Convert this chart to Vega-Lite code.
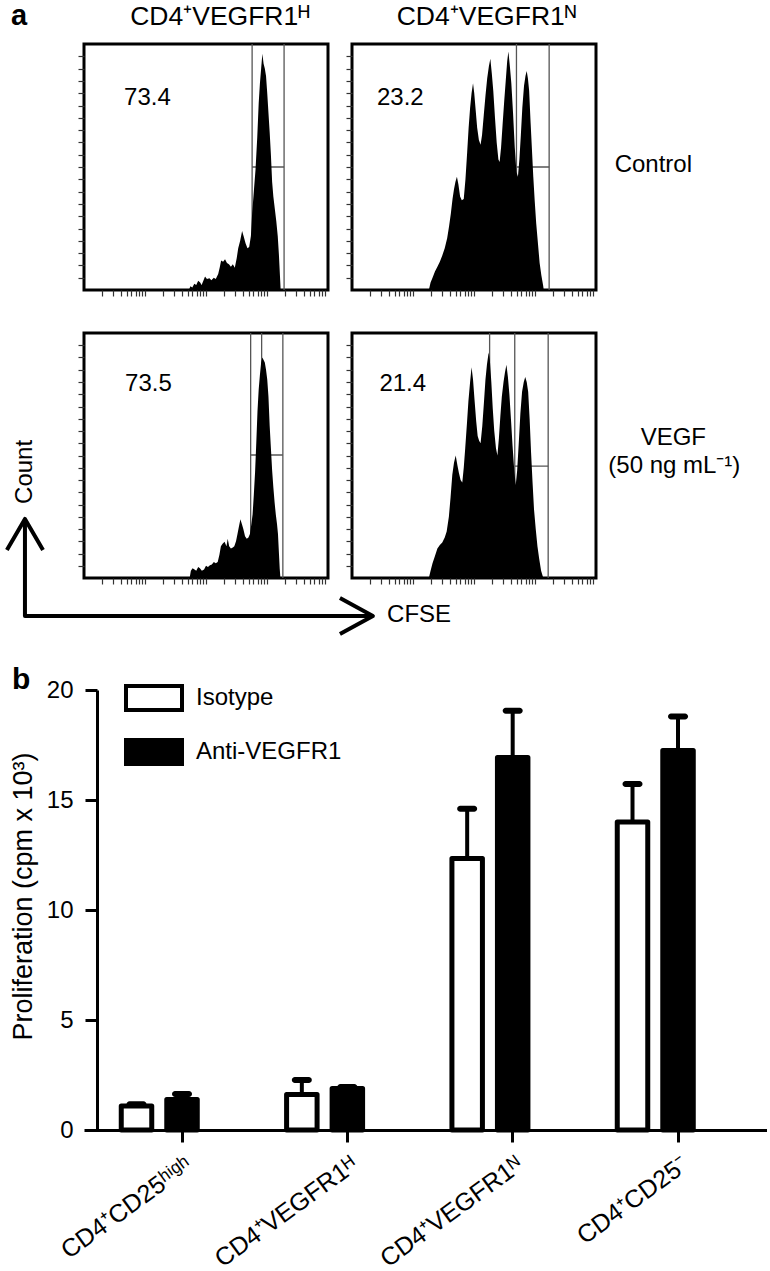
{
"$schema": "https://vega.github.io/schema/vega-lite/v6.json",
"padding": {"left": 3, "top": 0, "right": 0, "bottom": 1},
"background": "white",
"config": {"font": "Liberation Sans", "view": {"stroke": "black", "strokeWidth": 3}, "axis": {"grid": false}, "text": {"color": "black", "font": "Liberation Sans"}},
"datasets": {
"hist": [
{"p":"h1","x":43.0,"y":0},{"p":"h1","x":43.6,"y":1.5},{"p":"h1","x":44.4,"y":1},{"p":"h1","x":45.2,"y":2.5},{"p":"h1","x":46.0,"y":2},{"p":"h1","x":46.8,"y":3.8},{"p":"h1","x":47.6,"y":3},{"p":"h1","x":48.2,"y":2},{"p":"h1","x":49.0,"y":4},{"p":"h1","x":49.6,"y":5.5},{"p":"h1","x":50.4,"y":4.5},{"p":"h1","x":51.4,"y":4.8},{"p":"h1","x":52.2,"y":4},{"p":"h1","x":53.2,"y":5},{"p":"h1","x":54.0,"y":4.5},{"p":"h1","x":55.0,"y":6.5},{"p":"h1","x":55.6,"y":9},{"p":"h1","x":56.2,"y":12},{"p":"h1","x":57.0,"y":11.5},{"p":"h1","x":57.8,"y":12.5},{"p":"h1","x":58.6,"y":11},{"p":"h1","x":59.4,"y":10.5},{"p":"h1","x":60.2,"y":9.5},{"p":"h1","x":61.0,"y":10.5},{"p":"h1","x":61.8,"y":9},{"p":"h1","x":62.6,"y":13},{"p":"h1","x":63.2,"y":17},{"p":"h1","x":64.0,"y":20},{"p":"h1","x":64.8,"y":24},{"p":"h1","x":65.4,"y":22},{"p":"h1","x":66.2,"y":19},{"p":"h1","x":67.0,"y":17},{"p":"h1","x":67.7,"y":17.5},{"p":"h1","x":68.4,"y":22},{"p":"h1","x":68.9,"y":31},{"p":"h1","x":69.6,"y":40},{"p":"h1","x":70.3,"y":49},{"p":"h1","x":71.0,"y":62},{"p":"h1","x":71.6,"y":76},{"p":"h1","x":72.1,"y":84},{"p":"h1","x":72.6,"y":90},{"p":"h1","x":73.1,"y":96},{"p":"h1","x":73.6,"y":92},{"p":"h1","x":74.1,"y":90},{"p":"h1","x":74.6,"y":87},{"p":"h1","x":75.1,"y":80},{"p":"h1","x":75.6,"y":72},{"p":"h1","x":76.1,"y":64},{"p":"h1","x":76.6,"y":55},{"p":"h1","x":77.1,"y":44},{"p":"h1","x":77.6,"y":38},{"p":"h1","x":78.2,"y":33},{"p":"h1","x":78.8,"y":28},{"p":"h1","x":79.4,"y":22},{"p":"h1","x":79.9,"y":14},{"p":"h1","x":80.3,"y":6},{"p":"h1","x":80.6,"y":0},
{"p":"h2","x":31.5,"y":0},{"p":"h2","x":32.2,"y":3},{"p":"h2","x":33.0,"y":5},{"p":"h2","x":34.0,"y":7.5},{"p":"h2","x":35.0,"y":9.5},{"p":"h2","x":36.0,"y":11.5},{"p":"h2","x":37.0,"y":14},{"p":"h2","x":38.0,"y":17},{"p":"h2","x":39.0,"y":21},{"p":"h2","x":39.8,"y":26},{"p":"h2","x":40.5,"y":31},{"p":"h2","x":41.2,"y":37},{"p":"h2","x":41.8,"y":41},{"p":"h2","x":42.4,"y":44},{"p":"h2","x":43.0,"y":46},{"p":"h2","x":43.6,"y":43},{"p":"h2","x":44.3,"y":38},{"p":"h2","x":45.0,"y":36.5},{"p":"h2","x":45.8,"y":37},{"p":"h2","x":46.5,"y":45},{"p":"h2","x":47.2,"y":56},{"p":"h2","x":47.8,"y":66},{"p":"h2","x":48.4,"y":74},{"p":"h2","x":49.0,"y":80},{"p":"h2","x":49.6,"y":84},{"p":"h2","x":50.1,"y":80},{"p":"h2","x":50.7,"y":73},{"p":"h2","x":51.3,"y":66},{"p":"h2","x":52.0,"y":61},{"p":"h2","x":52.7,"y":59},{"p":"h2","x":53.3,"y":63},{"p":"h2","x":54.0,"y":71},{"p":"h2","x":54.7,"y":79},{"p":"h2","x":55.4,"y":86},{"p":"h2","x":56.1,"y":91},{"p":"h2","x":56.7,"y":94},{"p":"h2","x":57.3,"y":88},{"p":"h2","x":57.9,"y":81},{"p":"h2","x":58.6,"y":70},{"p":"h2","x":59.3,"y":60},{"p":"h2","x":60.0,"y":53},{"p":"h2","x":60.5,"y":52},{"p":"h2","x":61.1,"y":58},{"p":"h2","x":61.7,"y":67},{"p":"h2","x":62.4,"y":77},{"p":"h2","x":63.0,"y":85},{"p":"h2","x":63.6,"y":93},{"p":"h2","x":64.1,"y":97},{"p":"h2","x":64.7,"y":91},{"p":"h2","x":65.3,"y":84},{"p":"h2","x":66.0,"y":72},{"p":"h2","x":66.7,"y":58},{"p":"h2","x":67.4,"y":48},{"p":"h2","x":68.0,"y":46},{"p":"h2","x":68.6,"y":53},{"p":"h2","x":69.2,"y":63},{"p":"h2","x":69.8,"y":74},{"p":"h2","x":70.5,"y":83},{"p":"h2","x":71.1,"y":87},{"p":"h2","x":71.6,"y":89},{"p":"h2","x":72.1,"y":86},{"p":"h2","x":72.6,"y":81},{"p":"h2","x":73.2,"y":68},{"p":"h2","x":73.7,"y":58},{"p":"h2","x":74.3,"y":46},{"p":"h2","x":74.9,"y":36},{"p":"h2","x":75.5,"y":27},{"p":"h2","x":76.2,"y":19},{"p":"h2","x":76.9,"y":11},{"p":"h2","x":77.6,"y":6},{"p":"h2","x":78.3,"y":2},{"p":"h2","x":78.6,"y":0},
{"p":"h3","x":43.3,"y":0},{"p":"h3","x":43.8,"y":3},{"p":"h3","x":44.5,"y":4},{"p":"h3","x":45.3,"y":3.5},{"p":"h3","x":46.0,"y":3},{"p":"h3","x":46.8,"y":4.5},{"p":"h3","x":47.5,"y":4},{"p":"h3","x":48.3,"y":3},{"p":"h3","x":49.2,"y":3.5},{"p":"h3","x":50.0,"y":5},{"p":"h3","x":50.8,"y":4.5},{"p":"h3","x":51.6,"y":5.2},{"p":"h3","x":52.4,"y":5.5},{"p":"h3","x":53.2,"y":6.5},{"p":"h3","x":54.0,"y":6},{"p":"h3","x":54.8,"y":6.5},{"p":"h3","x":55.5,"y":9.5},{"p":"h3","x":56.1,"y":13},{"p":"h3","x":56.8,"y":14},{"p":"h3","x":57.6,"y":14.8},{"p":"h3","x":58.4,"y":13},{"p":"h3","x":58.9,"y":16},{"p":"h3","x":59.5,"y":13},{"p":"h3","x":60.2,"y":12},{"p":"h3","x":61.0,"y":12.5},{"p":"h3","x":61.6,"y":13},{"p":"h3","x":62.3,"y":15},{"p":"h3","x":62.9,"y":18},{"p":"h3","x":63.5,"y":21},{"p":"h3","x":64.1,"y":24},{"p":"h3","x":64.7,"y":22},{"p":"h3","x":65.3,"y":20},{"p":"h3","x":66.0,"y":17},{"p":"h3","x":66.7,"y":16},{"p":"h3","x":67.4,"y":16.5},{"p":"h3","x":68.0,"y":18},{"p":"h3","x":68.6,"y":22},{"p":"h3","x":69.1,"y":26},{"p":"h3","x":69.6,"y":34},{"p":"h3","x":70.1,"y":43},{"p":"h3","x":70.6,"y":55},{"p":"h3","x":71.1,"y":68},{"p":"h3","x":71.6,"y":77},{"p":"h3","x":72.1,"y":83},{"p":"h3","x":72.6,"y":88},{"p":"h3","x":73.1,"y":90},{"p":"h3","x":73.6,"y":89},{"p":"h3","x":74.1,"y":88},{"p":"h3","x":74.6,"y":85},{"p":"h3","x":75.1,"y":81},{"p":"h3","x":75.6,"y":74},{"p":"h3","x":76.1,"y":62},{"p":"h3","x":76.6,"y":53},{"p":"h3","x":77.1,"y":44},{"p":"h3","x":77.6,"y":37},{"p":"h3","x":78.1,"y":31},{"p":"h3","x":78.6,"y":26},{"p":"h3","x":79.1,"y":22},{"p":"h3","x":79.5,"y":18},{"p":"h3","x":79.9,"y":10},{"p":"h3","x":80.2,"y":4},{"p":"h3","x":80.5,"y":0},
{"p":"h4","x":31.5,"y":0},{"p":"h4","x":32.2,"y":3},{"p":"h4","x":33.0,"y":6},{"p":"h4","x":34.0,"y":9},{"p":"h4","x":35.0,"y":12},{"p":"h4","x":36.0,"y":13.5},{"p":"h4","x":37.0,"y":14.5},{"p":"h4","x":38.0,"y":16.5},{"p":"h4","x":38.8,"y":19},{"p":"h4","x":39.7,"y":25},{"p":"h4","x":40.4,"y":33},{"p":"h4","x":41.1,"y":42},{"p":"h4","x":41.8,"y":47},{"p":"h4","x":42.5,"y":50},{"p":"h4","x":43.2,"y":46},{"p":"h4","x":43.8,"y":43},{"p":"h4","x":44.5,"y":40},{"p":"h4","x":45.2,"y":39},{"p":"h4","x":45.8,"y":45},{"p":"h4","x":46.4,"y":53},{"p":"h4","x":47.1,"y":63},{"p":"h4","x":47.7,"y":72},{"p":"h4","x":48.4,"y":80},{"p":"h4","x":49.0,"y":86},{"p":"h4","x":49.6,"y":81},{"p":"h4","x":50.2,"y":73},{"p":"h4","x":50.9,"y":64},{"p":"h4","x":51.5,"y":58},{"p":"h4","x":52.1,"y":56},{"p":"h4","x":52.7,"y":55},{"p":"h4","x":53.4,"y":62},{"p":"h4","x":54.1,"y":72},{"p":"h4","x":54.7,"y":81},{"p":"h4","x":55.3,"y":87},{"p":"h4","x":56.0,"y":92},{"p":"h4","x":56.5,"y":89},{"p":"h4","x":57.1,"y":80},{"p":"h4","x":57.7,"y":69},{"p":"h4","x":58.3,"y":60},{"p":"h4","x":59.0,"y":53},{"p":"h4","x":59.6,"y":50},{"p":"h4","x":60.2,"y":57},{"p":"h4","x":60.8,"y":66},{"p":"h4","x":61.4,"y":74},{"p":"h4","x":62.1,"y":80},{"p":"h4","x":62.7,"y":84},{"p":"h4","x":63.3,"y":87},{"p":"h4","x":63.9,"y":82},{"p":"h4","x":64.5,"y":75},{"p":"h4","x":65.2,"y":64},{"p":"h4","x":65.8,"y":54},{"p":"h4","x":66.5,"y":44},{"p":"h4","x":67.1,"y":38},{"p":"h4","x":67.7,"y":44},{"p":"h4","x":68.4,"y":56},{"p":"h4","x":69.0,"y":67},{"p":"h4","x":69.7,"y":76},{"p":"h4","x":70.4,"y":80},{"p":"h4","x":71.0,"y":82},{"p":"h4","x":71.6,"y":80},{"p":"h4","x":72.2,"y":76},{"p":"h4","x":72.8,"y":65},{"p":"h4","x":73.4,"y":51},{"p":"h4","x":74.0,"y":39},{"p":"h4","x":74.6,"y":28},{"p":"h4","x":75.3,"y":20},{"p":"h4","x":76.0,"y":13},{"p":"h4","x":76.7,"y":8},{"p":"h4","x":77.5,"y":3},{"p":"h4","x":78.4,"y":0}
],
"gates": [
{"p":"h1","k":"v","x":68.9,"y":0,"y2":100},{"p":"h1","k":"v","x":82.0,"y":0,"y2":100},{"p":"h1","k":"h","x":68.9,"x2":82.0,"y":50},
{"p":"h2","k":"v","x":67.4,"y":0,"y2":100},{"p":"h2","k":"v","x":80.8,"y":0,"y2":100},{"p":"h2","k":"h","x":67.4,"x2":80.8,"y":50},
{"p":"h3","k":"v","x":68.3,"y":0,"y2":100},{"p":"h3","k":"v","x":72.8,"y":0,"y2":100},{"p":"h3","k":"v","x":81.5,"y":0,"y2":100},{"p":"h3","k":"h","x":68.3,"x2":81.5,"y":50.2},
{"p":"h4","k":"v","x":56.4,"y":0,"y2":100},{"p":"h4","k":"v","x":66.7,"y":0,"y2":100},{"p":"h4","k":"v","x":80.4,"y":0,"y2":100},{"p":"h4","k":"h","x":66.7,"x2":80.4,"y":45.7}
],
"notes": [
{"p":"h1","k":"head","x":55.7,"y":107.7,"t":"CD4⁺VEGFR1ᴴ"},
{"p":"h1","k":"num","x":26.0,"y":75.2,"t":"73.4"},
{"p":"h1","k":"panel","x":-26.6,"y":107.7,"t":"a"},
{"p":"h2","k":"head","x":55.1,"y":107.7,"t":"CD4⁺VEGFR1ᴺ"},
{"p":"h2","k":"num","x":19.8,"y":75.2,"t":"23.2"},
{"p":"h2","k":"side","x":123.5,"y":48.0,"t":"Control"},
{"p":"h3","k":"num","x":26.4,"y":76.3,"t":"73.5"},
{"p":"h3","k":"count","x":-24.2,"y":43.3,"t":"Count"},
{"p":"h3","k":"cfse","x":124.2,"y":-15.3,"t":"CFSE"},
{"p":"h3","k":"panel","x":-25.8,"y":-45.3,"t":"b"},
{"p":"h4","k":"num","x":20.8,"y":76.3,"t":"21.4"},
{"p":"h4","k":"side","x":131.7,"y":54.4,"t":"VEGF"},
{"p":"h4","k":"side","x":132.1,"y":43.0,"t":"(50 ng mL⁻¹)"}
],
"arrows": [
{"p":"h3","s":"L","o":1,"x":-24.2,"y":24.1},{"p":"h3","s":"L","o":2,"x":-24.2,"y":-15.5},{"p":"h3","s":"L","o":3,"x":118.4,"y":-15.5},
{"p":"h3","s":"U","o":1,"x":-31.6,"y":11.4},{"p":"h3","s":"U","o":2,"x":-24.2,"y":24.1},{"p":"h3","s":"U","o":3,"x":-16.8,"y":11.4},
{"p":"h3","s":"R","o":1,"x":104.9,"y":-8.2},{"p":"h3","s":"R","o":2,"x":118.4,"y":-15.5},{"p":"h3","s":"R","o":3,"x":104.9,"y":-22.9}
],
"bars": [
{"g":"CD4⁺CD25ʰⁱᵍʰ","t":"Isotype","mean":1.09,"upper":1.17},
{"g":"CD4⁺CD25ʰⁱᵍʰ","t":"Anti-VEGFR1","mean":1.39,"upper":1.64},
{"g":"CD4⁺VEGFR1ᴴ","t":"Isotype","mean":1.61,"upper":2.27},
{"g":"CD4⁺VEGFR1ᴴ","t":"Anti-VEGFR1","mean":1.89,"upper":1.95},
{"g":"CD4⁺VEGFR1ᴺ","t":"Isotype","mean":12.34,"upper":14.6},
{"g":"CD4⁺VEGFR1ᴺ","t":"Anti-VEGFR1","mean":16.93,"upper":19.06},
{"g":"CD4⁺CD25⁻","t":"Isotype","mean":14.0,"upper":15.73},
{"g":"CD4⁺CD25⁻","t":"Anti-VEGFR1","mean":17.25,"upper":18.79}
]
},
"columns": 2,
"align": "each",
"bounds": "flush",
"spacing": {"row": 43, "column": 24},
"resolve": {"scale": {"fill": "independent"}, "legend": {"fill": "independent"}},
"concat": [
{
"width": 244, "height": 246,
"encoding": {
 "x": {"field": "x", "type": "quantitative", "title": null, "scale": {"domain": [0, 100], "nice": false, "zero": false}, "axis": {"values": [7.53,11.93,15.05,17.47,19.46,21.13,22.58,23.86,25,32.53,36.93,40.05,42.47,44.46,46.13,47.58,48.86,50,57.53,61.93,65.05,67.47,69.46,71.13,72.58,73.86,75,82.53,86.93,90.05,92.47,94.46,96.13,97.58,98.86], "labels": false, "domain": false, "tickSize": 6, "tickColor": "#333", "tickWidth": 1.2, "title": null}},
 "y": {"field": "y", "type": "quantitative", "title": null, "scale": {"domain": [0, 100], "nice": false, "zero": false}, "axis": {"values": [5,10,15,20,25,30,35,40,45,50,55,60,65,70,75,80,85,90,95], "labels": false, "domain": false, "tickSize": 6, "tickColor": "#333", "tickWidth": 1.2, "title": null}}
},
"layer": [
{"data": {"name": "gates"}, "transform": [{"filter": "datum.p == 'h1' && datum.k == 'v'"}], "mark": {"type": "rule", "color": "#555", "strokeWidth": 1.3}, "encoding": {"y2": {"field": "y2"}}},
{"data": {"name": "gates"}, "transform": [{"filter": "datum.p == 'h1' && datum.k == 'h'"}], "mark": {"type": "rule", "color": "#555", "strokeWidth": 1.3}, "encoding": {"x2": {"field": "x2"}}},
{"data": {"name": "hist"}, "transform": [{"filter": "datum.p == 'h1'"}], "mark": {"type": "area", "color": "black", "interpolate": "linear"}},
{"data": {"name": "notes"}, "transform": [{"filter": "datum.p == 'h1' && datum.k == 'head'"}], "mark": {"type": "text", "fontSize": 26.5, "align": "center", "baseline": "alphabetic"}, "encoding": {"text": {"field": "t"}}},
{"data": {"name": "notes"}, "transform": [{"filter": "datum.p == 'h1' && datum.k == 'num'"}], "mark": {"type": "text", "fontSize": 24, "align": "center", "baseline": "alphabetic"}, "encoding": {"text": {"field": "t"}}},
{"data": {"name": "notes"}, "transform": [{"filter": "datum.p == 'h1' && datum.k == 'panel'"}], "mark": {"type": "text", "fontSize": 29, "fontWeight": "bold", "align": "center", "baseline": "alphabetic"}, "encoding": {"text": {"field": "t"}}}
]
},
{
"width": 244, "height": 246,
"encoding": {
 "x": {"field": "x", "type": "quantitative", "title": null, "scale": {"domain": [0, 100], "nice": false, "zero": false}, "axis": {"values": [7.53,11.93,15.05,17.47,19.46,21.13,22.58,23.86,25,32.53,36.93,40.05,42.47,44.46,46.13,47.58,48.86,50,57.53,61.93,65.05,67.47,69.46,71.13,72.58,73.86,75,82.53,86.93,90.05,92.47,94.46,96.13,97.58,98.86], "labels": false, "domain": false, "tickSize": 6, "tickColor": "#333", "tickWidth": 1.2, "title": null}},
 "y": {"field": "y", "type": "quantitative", "title": null, "scale": {"domain": [0, 100], "nice": false, "zero": false}, "axis": {"values": [5,10,15,20,25,30,35,40,45,50,55,60,65,70,75,80,85,90,95], "labels": false, "domain": false, "tickSize": 6, "tickColor": "#333", "tickWidth": 1.2, "title": null}}
},
"layer": [
{"data": {"name": "gates"}, "transform": [{"filter": "datum.p == 'h2' && datum.k == 'v'"}], "mark": {"type": "rule", "color": "#555", "strokeWidth": 1.3}, "encoding": {"y2": {"field": "y2"}}},
{"data": {"name": "gates"}, "transform": [{"filter": "datum.p == 'h2' && datum.k == 'h'"}], "mark": {"type": "rule", "color": "#555", "strokeWidth": 1.3}, "encoding": {"x2": {"field": "x2"}}},
{"data": {"name": "hist"}, "transform": [{"filter": "datum.p == 'h2'"}], "mark": {"type": "area", "color": "black", "interpolate": "linear"}},
{"data": {"name": "notes"}, "transform": [{"filter": "datum.p == 'h2' && datum.k == 'head'"}], "mark": {"type": "text", "fontSize": 26.5, "align": "center", "baseline": "alphabetic"}, "encoding": {"text": {"field": "t"}}},
{"data": {"name": "notes"}, "transform": [{"filter": "datum.p == 'h2' && datum.k == 'num'"}], "mark": {"type": "text", "fontSize": 24, "align": "center", "baseline": "alphabetic"}, "encoding": {"text": {"field": "t"}}},
{"data": {"name": "notes"}, "transform": [{"filter": "datum.p == 'h2' && datum.k == 'side'"}], "mark": {"type": "text", "fontSize": 24, "align": "center", "baseline": "alphabetic"}, "encoding": {"text": {"field": "t"}}}
]
},
{
"width": 244, "height": 245,
"encoding": {
 "x": {"field": "x", "type": "quantitative", "title": null, "scale": {"domain": [0, 100], "nice": false, "zero": false}, "axis": {"values": [7.53,11.93,15.05,17.47,19.46,21.13,22.58,23.86,25,32.53,36.93,40.05,42.47,44.46,46.13,47.58,48.86,50,57.53,61.93,65.05,67.47,69.46,71.13,72.58,73.86,75,82.53,86.93,90.05,92.47,94.46,96.13,97.58,98.86], "labels": false, "domain": false, "tickSize": 6, "tickColor": "#333", "tickWidth": 1.2, "title": null}},
 "y": {"field": "y", "type": "quantitative", "title": null, "scale": {"domain": [0, 100], "nice": false, "zero": false}, "axis": {"values": [5,10,15,20,25,30,35,40,45,50,55,60,65,70,75,80,85,90,95], "labels": false, "domain": false, "tickSize": 6, "tickColor": "#333", "tickWidth": 1.2, "title": null}}
},
"layer": [
{"data": {"name": "gates"}, "transform": [{"filter": "datum.p == 'h3' && datum.k == 'v'"}], "mark": {"type": "rule", "color": "#555", "strokeWidth": 1.3}, "encoding": {"y2": {"field": "y2"}}},
{"data": {"name": "gates"}, "transform": [{"filter": "datum.p == 'h3' && datum.k == 'h'"}], "mark": {"type": "rule", "color": "#555", "strokeWidth": 1.3}, "encoding": {"x2": {"field": "x2"}}},
{"data": {"name": "hist"}, "transform": [{"filter": "datum.p == 'h3'"}], "mark": {"type": "area", "color": "black", "interpolate": "linear"}},
{"data": {"name": "arrows"}, "transform": [{"filter": "datum.p == 'h3'"}], "mark": {"type": "line", "color": "black", "strokeWidth": 4, "strokeJoin": "round"}, "encoding": {"detail": {"field": "s"}, "order": {"field": "o"}}},
{"data": {"name": "notes"}, "transform": [{"filter": "datum.p == 'h3' && datum.k == 'num'"}], "mark": {"type": "text", "fontSize": 24, "align": "center", "baseline": "alphabetic"}, "encoding": {"text": {"field": "t"}}},
{"data": {"name": "notes"}, "transform": [{"filter": "datum.p == 'h3' && datum.k == 'count'"}], "mark": {"type": "text", "fontSize": 24, "align": "center", "baseline": "middle", "angle": 270}, "encoding": {"text": {"field": "t"}}},
{"data": {"name": "notes"}, "transform": [{"filter": "datum.p == 'h3' && datum.k == 'cfse'"}], "mark": {"type": "text", "fontSize": 24, "align": "left", "baseline": "middle"}, "encoding": {"text": {"field": "t"}}},
{"data": {"name": "notes"}, "transform": [{"filter": "datum.p == 'h3' && datum.k == 'panel'"}], "mark": {"type": "text", "fontSize": 30, "fontWeight": "bold", "align": "center", "baseline": "alphabetic"}, "encoding": {"text": {"field": "t"}}}
]
},
{
"width": 244, "height": 245,
"encoding": {
 "x": {"field": "x", "type": "quantitative", "title": null, "scale": {"domain": [0, 100], "nice": false, "zero": false}, "axis": {"values": [7.53,11.93,15.05,17.47,19.46,21.13,22.58,23.86,25,32.53,36.93,40.05,42.47,44.46,46.13,47.58,48.86,50,57.53,61.93,65.05,67.47,69.46,71.13,72.58,73.86,75,82.53,86.93,90.05,92.47,94.46,96.13,97.58,98.86], "labels": false, "domain": false, "tickSize": 6, "tickColor": "#333", "tickWidth": 1.2, "title": null}},
 "y": {"field": "y", "type": "quantitative", "title": null, "scale": {"domain": [0, 100], "nice": false, "zero": false}, "axis": {"values": [5,10,15,20,25,30,35,40,45,50,55,60,65,70,75,80,85,90,95], "labels": false, "domain": false, "tickSize": 6, "tickColor": "#333", "tickWidth": 1.2, "title": null}}
},
"layer": [
{"data": {"name": "gates"}, "transform": [{"filter": "datum.p == 'h4' && datum.k == 'v'"}], "mark": {"type": "rule", "color": "#555", "strokeWidth": 1.3}, "encoding": {"y2": {"field": "y2"}}},
{"data": {"name": "gates"}, "transform": [{"filter": "datum.p == 'h4' && datum.k == 'h'"}], "mark": {"type": "rule", "color": "#555", "strokeWidth": 1.3}, "encoding": {"x2": {"field": "x2"}}},
{"data": {"name": "hist"}, "transform": [{"filter": "datum.p == 'h4'"}], "mark": {"type": "area", "color": "black", "interpolate": "linear"}},
{"data": {"name": "notes"}, "transform": [{"filter": "datum.p == 'h4' && datum.k == 'num'"}], "mark": {"type": "text", "fontSize": 24, "align": "center", "baseline": "alphabetic"}, "encoding": {"text": {"field": "t"}}},
{"data": {"name": "notes"}, "transform": [{"filter": "datum.p == 'h4' && datum.k == 'side'"}], "mark": {"type": "text", "fontSize": 24, "align": "center", "baseline": "alphabetic"}, "encoding": {"text": {"field": "t"}}}
]
},
{"width": 10, "height": 26, "view": {"stroke": null}, "data": {"values": [{"a": 1}]}, "mark": {"type": "text", "text": ""}, "encoding": {}},
{"width": 10, "height": 26, "view": {"stroke": null}, "data": {"values": [{"a": 1}]}, "mark": {"type": "text", "text": ""}, "encoding": {}},
{
"width": 244, "height": 440,
"view": {"stroke": null},
"data": {"name": "bars"},
"layer": [
{"mark": {"type": "bar", "stroke": "black", "strokeWidth": 5, "strokeJoin": "round"},
 "encoding": {
  "x": {"field": "g", "type": "nominal", "sort": ["CD4⁺CD25ʰⁱᵍʰ","CD4⁺VEGFR1ᴴ","CD4⁺VEGFR1ᴺ","CD4⁺CD25⁻"], "scale": {"range": [0, 683], "paddingInner": 0.265, "paddingOuter": 0.198, "align": 0.569}, "title": null,
   "axis": {"title": null, "labelAngle": -36, "labelAlign": "right", "labelBaseline": "top", "labelFontSize": 25, "labelPadding": 10, "labelOffset": 0, "labelLimit": 400, "labelOverlap": false, "labelColor": "black", "tickSize": 12, "tickWidth": 3, "tickColor": "black", "domainWidth": 3, "domainColor": "black"}},
  "xOffset": {"field": "t", "type": "nominal", "scale": {"domain": ["Isotype","Anti-VEGFR1","pad"], "paddingInner": 0.33, "paddingOuter": 0}},
  "y": {"field": "mean", "type": "quantitative", "scale": {"domain": [0, 20], "nice": false},
   "axis": {"values": [0,5,10,15,20], "offset": -13, "tickSize": 12, "tickWidth": 3, "tickColor": "black", "domainWidth": 3, "domainColor": "black", "labelFontSize": 24, "labelPadding": 12, "labelColor": "black", "title": "Proliferation (cpm x 10³)", "titleFontSize": 27, "titleFontWeight": "normal", "titleColor": "black", "titlePadding": 9, "titleY": 206}},
  "fill": {"field": "t", "type": "nominal", "scale": {"domain": ["Isotype","Anti-VEGFR1"], "range": ["white","black"]},
   "legend": {"title": null, "orient": "none", "direction": "vertical", "legendX": 40, "legendY": -22, "padding": 0, "symbolType": "M-1,-0.43H1V0.43H-1Z", "symbolSize": 3136, "symbolStrokeColor": "black", "symbolStrokeWidth": 4, "symbolOpacity": 1, "labelFontSize": 24, "labelColor": "black", "labelOffset": 12, "rowPadding": 3}}
 }},
{"mark": {"type": "rule", "color": "black", "strokeWidth": 4},
 "encoding": {
  "x": {"field": "g", "type": "nominal", "sort": ["CD4⁺CD25ʰⁱᵍʰ","CD4⁺VEGFR1ᴴ","CD4⁺VEGFR1ᴺ","CD4⁺CD25⁻"], "title": null},
  "xOffset": {"field": "t", "type": "nominal"},
  "y": {"field": "mean", "type": "quantitative"},
  "y2": {"field": "upper"}
 }},
{"mark": {"type": "tick", "orient": "horizontal", "color": "black", "size": 20, "thickness": 6, "cornerRadius": 3, "opacity": 1},
 "encoding": {
  "x": {"field": "g", "type": "nominal", "sort": ["CD4⁺CD25ʰⁱᵍʰ","CD4⁺VEGFR1ᴴ","CD4⁺VEGFR1ᴺ","CD4⁺CD25⁻"], "title": null},
  "xOffset": {"field": "t", "type": "nominal"},
  "y": {"field": "upper", "type": "quantitative"}
 }}
]
}
]
}
